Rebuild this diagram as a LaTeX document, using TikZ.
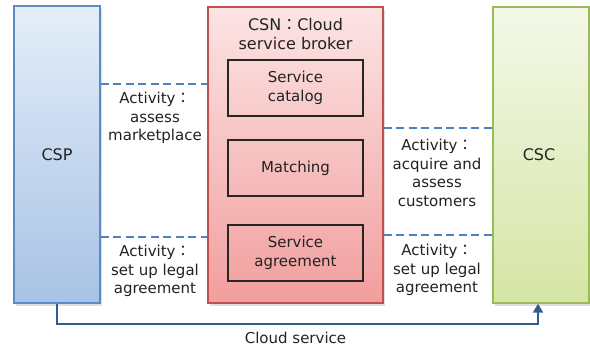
\documentclass[tikz,border=0pt]{standalone}
\usepackage{fontspec}
\setmainfont{DejaVu Sans}
\newfontfamily\cjk{Noto Sans CJK KR}
\usetikzlibrary{shadows,arrows.meta}
\definecolor{cspfill1}{HTML}{E4EEF9}
\definecolor{cspfill2}{HTML}{A8C2E5}
\definecolor{cspline}{HTML}{5B8AC9}
\definecolor{csnfill1}{HTML}{FCE4E4}
\definecolor{csnfill2}{HTML}{F29E9E}
\definecolor{csnline}{HTML}{C0504D}
\definecolor{cscfill1}{HTML}{F4F8E8}
\definecolor{cscfill2}{HTML}{D5E5A4}
\definecolor{cscline}{HTML}{9BBB59}
\definecolor{dashcol}{HTML}{4F81BD}
\definecolor{arrowcol}{HTML}{2F5D8E}
\definecolor{txt}{HTML}{222222}
\newcommand{\fcolon}{{\cjk ：}}
\tikzset{
  bigbox/.style={draw, line width=1.4pt, inner sep=0pt,
    drop shadow={shadow xshift=2pt, shadow yshift=-2.5pt, opacity=0.25}},
  innerbox/.style={draw=black!85, line width=1.2pt, inner sep=0pt,
    minimum width=135pt, minimum height=56pt, align=center,
    font=\fontsize{15}{18.5}\selectfont},
  conn/.style={dashcol, line width=1.2pt, dash pattern=on 8pt off 4.5pt},
  lbl/.style={align=center, text=txt, fill=white, inner sep=1pt,
    font=\fontsize{15}{18.6}\selectfont},
}
\begin{document}
\begin{tikzpicture}[x=1pt,y=-1pt, font=\fontsize{15}{18}\selectfont, text=txt]
\useasboundingbox (0,0) rectangle (590,349);
\node[bigbox, draw=cspline, top color=cspfill1, bottom color=cspfill2,
  minimum width=86pt, minimum height=297pt] (csp) at (57,154.5) {};
\node[text=txt, font=\fontsize{16}{18}\selectfont] (csplbl) at (57,155) {CSP};
\node[bigbox, draw=csnline, top color=csnfill1, bottom color=csnfill2,
  minimum width=175pt, minimum height=296pt] (csn) at (295.5,155) {};
\node[bigbox, draw=cscline, top color=cscfill1, bottom color=cscfill2,
  minimum width=96pt, minimum height=296pt] (csc) at (541,155) {};
\node[text=txt, font=\fontsize{16}{18}\selectfont] (csclbl) at (539,155) {CSC};
\node[align=center, text=txt, font=\fontsize{16}{18.5}\selectfont] (csntitle) at (295.5,34) {CSN\fcolon Cloud\\service broker};
\node[innerbox] (catalog) at (295.5,88) {Service\\catalog};
\node[innerbox] (matching) at (295.5,168) {Matching};
\node[innerbox] (agreement) at (295.5,253) {Service\\agreement};
% dashed connectors
\draw[conn] (csp.east |- 0,84) -- (csn.west |- 0,84);
\draw[conn] (csp.east |- 0,237) -- (csn.west |- 0,237);
\draw[conn] (csn.east |- 0,128) -- (csc.west |- 0,128);
\draw[conn] (csn.east |- 0,235) -- (csc.west |- 0,235);
% labels
\node[lbl] (l1) at (155,118) {Activity\fcolon\\assess\\marketplace};
\node[lbl] (l2) at (155,271) {Activity\fcolon\\set up legal\\agreement};
\node[lbl] (l3) at (437,173) {Activity\fcolon\\acquire and\\assess\\customers};
\node[lbl] (l4) at (437,270) {Activity\fcolon\\set up legal\\agreement};
% cloud service arrow
\coordinate (turnA) at (57,324);
\draw[arrowcol, line width=2pt, -{Triangle[length=9pt,width=10pt]}]
  (csp.south) -- (turnA) -| ([xshift=-3pt]csc.south);
\node[text=txt] (cloud) at (295.5,338) {Cloud service};
\end{tikzpicture}
\end{document}
